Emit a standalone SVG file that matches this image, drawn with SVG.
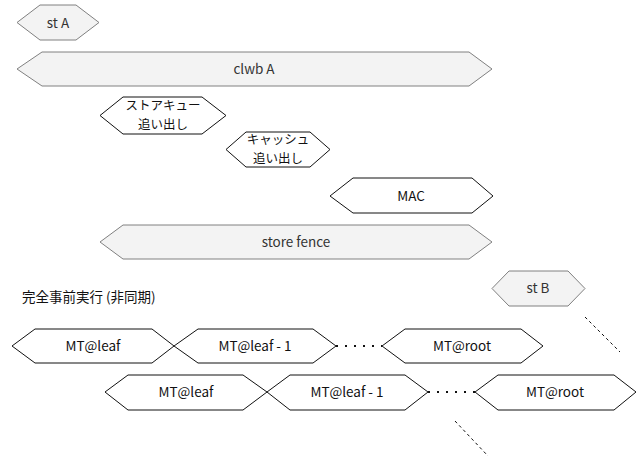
<svg xmlns="http://www.w3.org/2000/svg" width="643" height="458" viewBox="0 0 643 458">
<style>
text{font-family:"Noto Sans CJK JP","Noto Sans",sans-serif;font-size:13.5px;text-anchor:middle;fill:#111}
text.two{font-size:12.5px}
.g polygon{fill:#f3f3f3;stroke:#808080;stroke-width:1}
.g text{fill:#333}
.w polygon{fill:#fff;stroke:#111;stroke-width:1}
.dot{stroke:#111;stroke-width:2;stroke-dasharray:2 7;fill:none}
.dash{stroke:#111;stroke-width:1;stroke-dasharray:3 3;fill:none}
</style>
<rect width="643" height="458" fill="#fff"/>
<g id="stA" class="g"><polygon points="17,22.5 40,5 76,5 99,22.5 76,40 40,40"/><text x="58" y="27.5">st A</text></g>
<g id="clwbA" class="g"><polygon points="17,69 42,52 469,52 492,69 469,86 42,86"/><text x="254" y="74">clwb A</text></g>
<g id="sqEvict" class="w"><polygon points="100,115.5 123,97 202,97 226,115.5 202,134 123,134"/><text class="two" x="163" y="110">ストアキュー</text><text class="two" x="163" y="128.5">追い出し</text></g>
<g id="cacheEvict" class="w"><polygon points="226,149.5 246,132 310,132 330,149.5 310,167 246,167"/><text class="two" x="278" y="144">キャッシュ</text><text class="two" x="278" y="162.5">追い出し</text></g>
<g id="mac" class="w"><polygon points="330,196 353,178 472,178 493,196 472,213 353,213"/><text x="411" y="200.5">MAC</text></g>
<g id="storeFence" class="g"><polygon points="100,242 123,225 469,225 492,242 469,259 123,259"/><text x="296" y="246.5">store fence</text></g>
<g id="label"><text x="22" y="302" style="text-anchor:start">完全事前実行 (非同期)</text></g>
<g id="stB" class="g"><polygon points="492,288.5 509,271 568,271 585,288.5 568,306 509,306"/><text x="538" y="293">st B</text></g>
<g id="r1leaf" class="w"><polygon points="12,346 35,329 152,329 174,346 152,363 35,363"/><text x="93" y="350.5">MT@leaf</text></g>
<g id="r1leaf1" class="w"><polygon points="174,346 198,329 313,329 336,346 313,363 198,363"/><text x="255" y="350.5">MT@leaf - 1</text></g>
<g id="r1root" class="w"><polygon points="382,346 405,329 521,329 543,346 521,363 405,363"/><text x="462" y="350.5">MT@root</text></g>
<g id="r2leaf" class="w"><polygon points="105,392 128,375 243,375 267,392 243,410 128,410"/><text x="186" y="396.5">MT@leaf</text></g>
<g id="r2leaf1" class="w"><polygon points="267,392 290,375 405,375 428,392 405,410 290,410"/><text x="347" y="396.5">MT@leaf - 1</text></g>
<g id="r2root" class="w"><polygon points="475,392 498,375 614,375 636,392 614,410 498,410"/><text x="555" y="396.5">MT@root</text></g>
<g id="connectors">
<line class="dot" x1="336" y1="346" x2="382" y2="346"/>
<line class="dot" x1="428" y1="392" x2="475" y2="392"/>
<line class="dash" x1="585" y1="317" x2="620" y2="352"/>
<line class="dash" x1="455" y1="421" x2="488" y2="456"/>
</g>
</svg>
